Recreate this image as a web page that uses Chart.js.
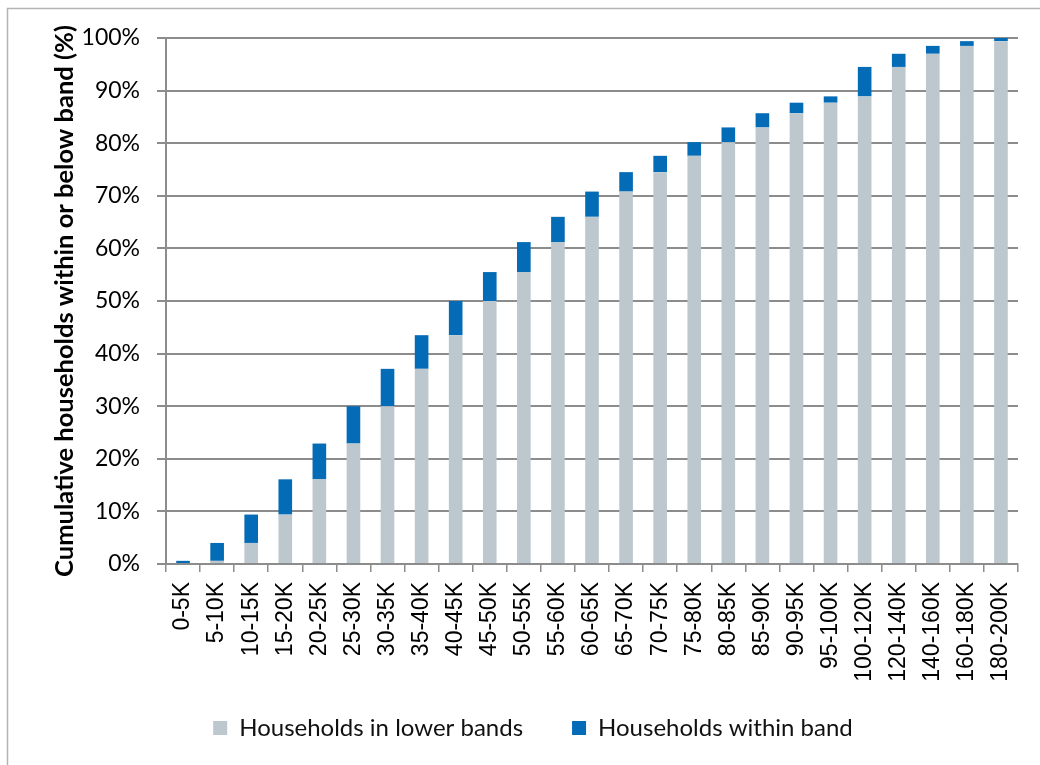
<!DOCTYPE html>
<html>
<head>
<meta charset="utf-8">
<script src="https://cdn.jsdelivr.net/npm/chart.js@4/dist/chart.umd.min.js"></script>
<style>
    html, body { margin: 0; padding: 0; background: #fff; }
    #wrap { width: 1040px; height: 765px; }
</style>
</head>
<body>
<div id="wrap"><canvas id="chart"></canvas></div>
<script>
let bands = ['0-5K', '5-10K', '10-15K', '15-20K', '20-25K', '25-30K', '30-35K', '35-40K', '40-45K',
    '45-50K', '50-55K', '55-60K', '60-65K', '65-70K', '70-75K', '75-80K', '80-85K', '85-90K',
    '90-95K', '95-100K', '100-120K', '120-140K', '140-160K', '160-180K', '180-200K'];
// cumulative share of households below each band (%)
let lowerBands = [0, 0.6, 4.0, 9.4, 16.1, 22.9, 30.0, 37.1, 43.5, 50.0, 55.5, 61.2, 66.0,
    70.8, 74.5, 77.6, 80.2, 83.0, 85.7, 87.7, 88.9, 94.5, 97.0, 98.5, 99.4];
// share of households inside the band (%)
let withinBand = [0.6, 3.4, 5.4, 6.7, 6.8, 7.1, 7.1, 6.4, 6.5, 5.5, 5.7, 4.8, 4.8,
    3.7, 3.1, 2.6, 2.8, 2.7, 2.0, 1.2, 5.6, 2.5, 1.5, 0.9, 0.6];
let yTicks = [0, 10, 20, 30, 40, 50, 60, 70, 80, 90, 100];

const frame = {
    id: 'frame',
    beforeDraw(chart) {
        const ctx = chart.ctx;
        ctx.save();
        ctx.strokeStyle = '#b4b4b4';
        ctx.lineWidth = 1.5;
        ctx.strokeRect(7.5, 8.5, 1100, 800);
        ctx.restore();
    }
};

function drawChart() {
    const ctx = document.getElementById('chart');
    new Chart(ctx, {
        type: 'bar',
        data: {
            labels: bands,
            datasets: [{
                label: 'Households in lower bands',
                data: lowerBands,
                backgroundColor: '#bdc7ce',
                categoryPercentage: 1,
                barPercentage: 0.4
            }, {
                label: 'Households within band',
                data: withinBand,
                backgroundColor: '#046bb6',
                categoryPercentage: 1,
                barPercentage: 0.4
            }]
        },
        options: {
            responsive: true,
            maintainAspectRatio: false,
            animation: false,
            layout: { padding: { left: 48, right: 22, top: 38, bottom: 15 } },
            plugins: {
                tooltip: { enabled: false },
                legend: {
                    position: 'bottom',
                    labels: {
                        boxWidth: 14,
                        boxHeight: 14,
                        padding: 49,
                        color: '#111',
                        font: { family: 'Lato', size: 24 }
                    }
                }
            },
            scales: {
                x: {
                    stacked: true,
                    afterFit(s) {
                        s.height = 103;
                        // let the long rotated labels run past the axis box
                        s._computeLabelArea = () => null;
                    },
                    grid: {
                        offset: true,
                        drawOnChartArea: false,
                        drawTicks: true,
                        tickLength: 8,
                        color: '#8c8c8c',
                        lineWidth: 1.5
                    },
                    border: { color: '#8c8c8c', width: 2 },
                    ticks: {
                        autoSkip: false,
                        maxRotation: 90,
                        minRotation: 90,
                        padding: 10,
                        color: '#000',
                        font: { family: 'Liberation Sans', size: 23 }
                    }
                },
                y: {
                    stacked: true,
                    min: 0,
                    max: 100,
                    afterFit(s) { s.width = 118; },
                    afterBuildTicks(s) { s.ticks = yTicks.map(v => ({ value: v })); },
                    grid: {
                        color: '#8c8c8c',
                        lineWidth: 2,
                        tickLength: 9
                    },
                    border: { color: '#8c8c8c', width: 2 },
                    ticks: {
                        padding: 17,
                        color: '#000',
                        font: { family: 'Lato', size: 23 },
                        callback: v => v + '%'
                    },
                    title: {
                        display: true,
                        text: 'Cumulative households within or below band (%)',
                        color: '#000',
                        padding: { top: 1, bottom: 0 },
                        font: { family: 'Lato', size: 25.5, weight: 'bold' }
                    }
                }
            }
        },
        plugins: [frame]
    });
}

drawChart();
</script>
</body>
</html>
